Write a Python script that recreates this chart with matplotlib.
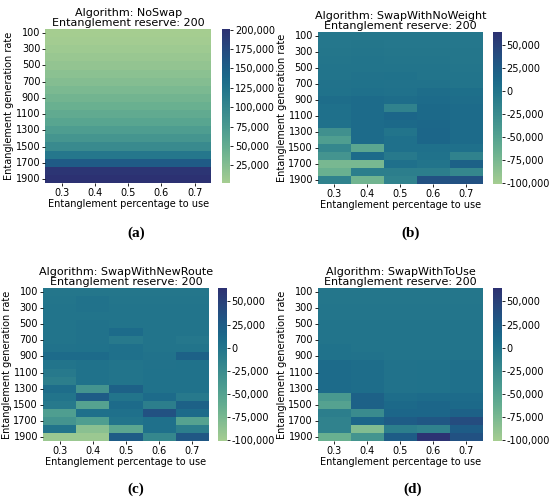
import matplotlib
matplotlib.use('Agg')
import matplotlib.pyplot as plt
import matplotlib.ticker as mticker
import numpy as np
import seaborn as sns

plt.rcParams['font.family'] = ['DejaVu Sans']
plt.rcParams['font.size'] = 7

# Data

gen_rate = [100, 200, 300, 400, 500, 600, 700, 800, 900, 1000,
            1100, 1200, 1300, 1400, 1500, 1600, 1700, 1800, 1900]
percentage = [0.3, 0.4, 0.5, 0.6, 0.7]

noswap = [
    [2000, 2000, 2000, 2000, 2000],
    [4000, 4000, 4000, 4000, 4000],
    [7000, 7000, 7000, 7000, 7000],
    [11000, 11000, 11000, 11000, 11000],
    [15000, 15000, 15000, 15000, 15000],
    [20000, 20000, 20000, 20000, 20000],
    [26000, 26000, 26000, 26000, 26000],
    [32000, 32000, 32000, 32000, 32000],
    [38000, 38000, 38000, 38000, 38000],
    [45000, 45000, 45000, 45000, 45000],
    [52000, 52000, 52000, 52000, 52000],
    [60000, 60000, 60000, 60000, 60000],
    [70000, 70000, 70000, 70000, 70000],
    [80000, 80000, 80000, 80000, 80000],
    [95000, 95000, 95000, 95000, 95000],
    [120000, 120000, 120000, 120000, 120000],
    [155000, 155000, 155000, 155000, 155000],
    [196000, 196000, 196000, 196000, 196000],
    [201000, 201000, 201000, 201000, 201000],
]

swap_noweight = [
    [-3000, -3000, -3000, -3000, -3000],
    [-3000, -2000, -3000, -3000, -3000],
    [-2000, -1000, -2000, -2000, -2000],
    [-1000, 0, -1000, -1000, -2000],
    [0, 1000, 0, 0, -1000],
    [1000, 2000, 3000, 1000, 0],
    [2000, 3000, 2000, 2000, 0],
    [3000, 5000, 4000, 8000, 6000],
    [8000, 10000, 8000, 10000, 8000],
    [5000, 10000, -15000, 12000, 10000],
    [5000, 10000, 15000, 12000, 10000],
    [4000, 10000, 12000, 14000, 10000],
    [-30000, 10000, 0, 15000, 10000],
    [-45000, 10000, 5000, 15000, 10000],
    [-20000, -55000, 5000, 5000, 5000],
    [-35000, 10000, -5000, 3000, -15000],
    [-75000, -75000, 5000, 0, 20000],
    [-65000, -10000, -10000, -10000, -20000],
    [-15000, -70000, -15000, 35000, 35000],
]

swap_newroute = [
    [-2000, -2000, -2000, -2000, -2000],
    [-1000, 2000, -1000, -1000, -1000],
    [0, 2000, 0, 0, 0],
    [0, 1000, 1000, 0, 0],
    [1000, 2000, 1000, 0, 0],
    [1000, 2000, 10000, 0, 0],
    [1000, 2000, -5000, 0, -3000],
    [2000, 3000, 5000, 0, 0],
    [10000, 10000, 5000, 2000, 20000],
    [0, 3000, 0, 2000, 3000],
    [-5000, 3000, 0, 3000, 3000],
    [-10000, 3000, 0, 3000, 3000],
    [8000, -35000, 20000, 3000, 3000],
    [0, 25000, 0, 10000, -5000],
    [-5000, -50000, 10000, -10000, 20000],
    [-45000, 5000, 5000, 35000, 10000],
    [-35000, -45000, 0, 5000, -50000],
    [0, -85000, -55000, 5000, -10000],
    [-95000, -95000, 25000, -20000, 30000],
]

swap_touse = [
    [-2000, -2000, -2000, -2000, -2000],
    [-2000, -2000, -2000, -2000, -2000],
    [-1000, -1000, -1000, -1000, -1000],
    [-1000, -1000, -1000, -1000, -1000],
    [0, 0, 0, 0, 0],
    [0, 0, 0, 0, 0],
    [1000, 0, 0, 0, 0],
    [3000, 1000, 1000, 1000, 1000],
    [3000, 2000, 1000, 1000, 1000],
    [10000, 8000, 2000, 3000, 5000],
    [10000, 8000, 2000, 3000, 5000],
    [10000, 8000, 2000, 3000, 5000],
    [10000, 8000, 2000, 3000, 5000],
    [-40000, 20000, 8000, 10000, 10000],
    [-50000, 20000, 12000, 15000, 12000],
    [-10000, -25000, 15000, 15000, 20000],
    [-15000, 15000, 25000, 30000, 40000],
    [-15000, -80000, -10000, -15000, 25000],
    [-65000, -35000, 25000, 62000, 35000],
]

titles = ['NoSwap', 'SwapWithNoWeight', 'SwapWithNewRoute', 'SwapWithToUse']
captions = ['a', 'b', 'c', 'd']
panels = [noswap, swap_noweight, swap_newroute, swap_touse]

# Layout (figure fractions): heatmap box, colorbar box, caption position
heat_pos = [[0.082, 0.634, 0.302, 0.308],
            [0.578, 0.632, 0.300, 0.304],
            [0.078, 0.118, 0.302, 0.306],
            [0.578, 0.118, 0.300, 0.306]]
cbar_pos = [[0.403, 0.634, 0.016, 0.308],
            [0.896, 0.632, 0.016, 0.304],
            [0.396, 0.118, 0.016, 0.306],
            [0.896, 0.118, 0.016, 0.306]]
cap_pos = [[0.247, 0.533], [0.746, 0.533], [0.247, 0.021], [0.75, 0.021]]

fmt = mticker.FuncFormatter(lambda v, p: f'{v:,.0f}')

fig = plt.figure(figsize=(5.5, 5.0), dpi=100)

for i in range(4):
    ax = fig.add_axes(heat_pos[i])
    cax = fig.add_axes(cbar_pos[i])
    data = np.array(panels[i], dtype=float)
    if i == 0:
        vmin, vmax = 2000, 201000
        cticks = np.arange(25000, 200001, 25000)
    else:
        vmin, vmax = -101000, 64500
        cticks = np.arange(-100000, 50001, 25000)

    sns.heatmap(data, ax=ax, cbar_ax=cax, cmap='crest', vmin=vmin, vmax=vmax,
                xticklabels=percentage, yticklabels=gen_rate)

    ax.set_yticks(np.arange(len(gen_rate))[::2] + 0.5)
    ax.set_yticklabels([str(g) for g in gen_rate[::2]], rotation=0)
    ax.set_xticklabels([str(p) for p in percentage], rotation=0)
    ax.tick_params(axis='both', labelsize=7, length=2, width=0.6, pad=1.5)
    ax.set_xlabel('Entanglement percentage to use', fontsize=7, labelpad=1)
    ax.set_ylabel('Entanglement generation rate', fontsize=7, labelpad=1)
    ax.set_title('Algorithm: ' + titles[i] + '\nEntanglement reserve: 200',
                 fontsize=8, pad=2, linespacing=1.05)

    cb = ax.collections[0].colorbar
    cb.set_ticks(cticks)
    cb.ax.yaxis.set_major_formatter(fmt)
    cb.ax.tick_params(labelsize=7, length=2, width=0.6, pad=1.5)
    cb.outline.set_visible(False)

    fig.text(cap_pos[i][0], cap_pos[i][1], '(' + captions[i] + ')',
             ha='center', va='center', fontsize=11,
             family='Liberation Serif', fontweight='bold')

plt.savefig('out.png', dpi=100)
